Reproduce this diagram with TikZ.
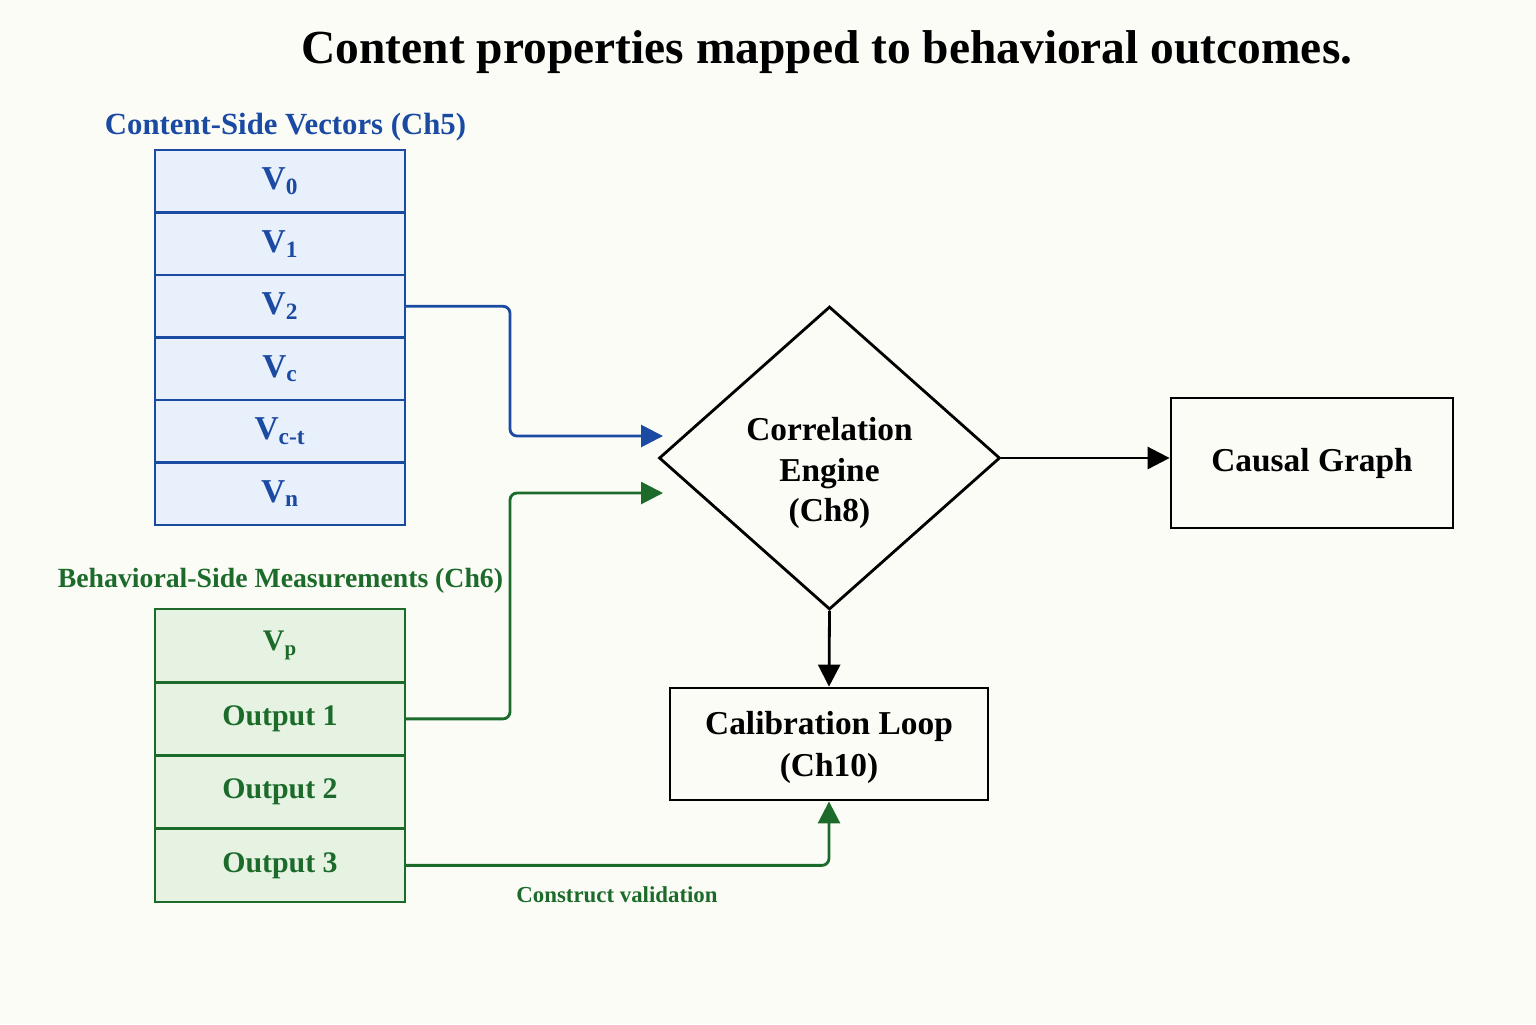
\documentclass[tikz,border=0pt]{standalone}
\usepackage{fontspec}
\setmainfont{Liberation Serif}
\usepackage{xcolor}
\usetikzlibrary{arrows.meta, positioning, shapes.geometric}
\definecolor{vecblue}{HTML}{1B4AA3}
\definecolor{vecfill}{HTML}{E7F0FB}
\definecolor{msrgreen}{HTML}{1C6B2B}
\definecolor{msrfill}{HTML}{E6F3E3}
\definecolor{paper}{HTML}{FCFCF7}

\begin{document}
\begin{tikzpicture}[
    >={Triangle[length=0.44cm, width=0.44cm]},
    node distance=0cm,
    vcell/.style={draw=vecblue, line width=1.6pt, fill=vecfill, text=vecblue, outer sep=0pt, inner sep=0pt, minimum width=5cm, minimum height=1.25cm, font=\fontsize{19}{21}\selectfont\bfseries},
    mcell/.style={draw=msrgreen, line width=1.6pt, fill=msrfill, text=msrgreen, outer sep=0pt, inner sep=0pt, minimum width=5cm, minimum height=1.465cm, font=\fontsize{17}{19}\selectfont\bfseries},
    block/.style={draw, line width=1.6pt, align=center, font=\fontsize{19}{24}\selectfont\bfseries},
    engine/.style={diamond, draw, line width=1.6pt, inner sep=0pt, minimum width=6.82cm, minimum height=6.06cm},
    head/.style={font=\fontsize{16}{18}\selectfont\bfseries},
    arrow/.style={->, line width=1.6pt},
]
\useasboundingbox[fill=paper] (0,0) rectangle (30.72,-20.48);
\node[font=\fontsize{27}{30}\selectfont\bfseries] (title) at (16.54,-1.05) {Content properties mapped to behavioral outcomes.};
\node[head, text=vecblue, font=\fontsize{17.5}{19}\selectfont\bfseries] (vhead) at (5.71,-2.54) {Content-Side Vectors (Ch5)};
\node[vcell] (v0) at (5.6,-3.625) {V\textsubscript{0}};
\node[vcell, below=of v0] (v1) {V\textsubscript{1}};
\node[vcell, below=of v1] (v2) {V\textsubscript{2}};
\node[vcell, below=of v2] (vc) {V\textsubscript{c}};
\node[vcell, below=of vc] (vct) {V\textsubscript{c-t}};
\node[vcell, below=of vct] (vn) {V\textsubscript{n}};
\node[head, text=msrgreen, font=\fontsize{15.8}{18}\selectfont\bfseries] (mhead) at (5.61,-11.62) {Behavioral-Side Measurements (Ch6)};
\node[mcell] (vp) at (5.6,-12.9125) {V\textsubscript{p}};
\node[mcell, below=of vp] (o1) {Output 1};
\node[mcell, below=of o1] (o2) {Output 2};
\node[mcell, below=of o2] (o3) {Output 3};
\node[engine] (ce) at (16.59,-9.16) {};
\node[align=center, font=\fontsize{19}{23}\selectfont\bfseries] (celabel) at ([yshift=-0.3cm]ce.center) {Correlation\\Engine\\(Ch8)};
\node[block, minimum width=5.64cm, minimum height=2.6cm] (cg) at (26.24,-9.26) {Causal Graph};
\node[block, minimum width=6.36cm, minimum height=2.24cm, text depth=0pt] (cl) at (16.58,-14.88) {Calibration Loop\\(Ch10)};
\coordinate (in1) at (13.26,-8.72);
\coordinate (in2) at (13.26,-9.86);
\draw[arrow, vecblue, rounded corners=4pt] (v2.east) -- ++(2.1,0) |- (in1);
\draw[arrow, msrgreen, rounded corners=4pt] (o1.east) -- ++(2.1,0) |- (in2);
\draw[arrow] (ce.east) -- (ce.east -| cg.west);
\draw[arrow] (ce.south) -- (cl.north);
\draw[arrow, msrgreen, rounded corners=4pt] (o3.east) -| node[pos=0.25, below=0.28cm, font=\fontsize{13}{15}\selectfont\bfseries] {Construct validation} (cl.south);
\end{tikzpicture}
\end{document}
